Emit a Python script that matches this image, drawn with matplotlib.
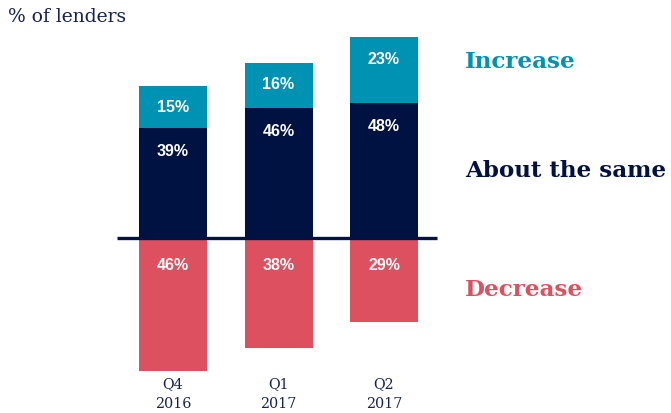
import matplotlib
matplotlib.use("Agg")
import matplotlib.pyplot as plt
import numpy as np

periods = ["Q4\n2016", "Q1\n2017", "Q2\n2017"]
increase = [15, 16, 23]
same = [39, 46, 48]
decrease = [46, 38, 29]
series_names = ["Increase", "About the same", "Decrease"]

c_inc = "#0092b2"
c_same = "#001241"
c_dec = "#dd505f"
c_text = "#14224e"

fig = plt.figure(figsize=(6.71, 4.13), dpi=100)
ax = fig.add_axes([0, 0, 1, 1])
ppx = 2.85   # pixels per percent
base = 239.5  # pixel row of zero
spacing = 105.5
ax.set_ylim(-(413 - base) / ppx, base / ppx)
ax.set_xlim(-173 / spacing, (671 - 173) / spacing)
ax.axis("off")

x = np.arange(len(periods))
w = 68 / spacing
ax.bar(x, same, width=w, color=c_same, zorder=2)
ax.bar(x, increase, bottom=same, width=w, color=c_inc, zorder=2)
ax.bar(x, [-d for d in decrease], width=w, color=c_dec, zorder=2)

ax.plot([(117 - 173) / spacing, (437 - 173) / spacing], [1.6 / ppx, 1.6 / ppx], color=c_same,
        lw=2.4, zorder=3, solid_capstyle="butt")

vfont = dict(family="Liberation Sans", fontweight="bold", fontsize=11.5, color="white",
             ha="center", va="center")
for i in range(len(periods)):
    tot = same[i] + increase[i]
    ax.text(x[i], tot - 22 / ppx, f"{increase[i]}%", **vfont, zorder=4)
    ax.text(x[i], same[i] - 23.5 / ppx, f"{same[i]}%", **vfont, zorder=4)
    ax.text(x[i], -25.5 / ppx, f"{decrease[i]}%", **vfont, zorder=4)
    ax.text(x[i], -(394 - base) / ppx, periods[i], family="DejaVu Serif", fontsize=10.3,
            color=c_text, ha="center", va="center", linespacing=1.55)

lx = (465 - 173) / spacing
lfont = dict(family="DejaVu Serif", fontweight="bold", fontsize=16.6, ha="left", va="center")
ax.text(lx, (base - 62) / ppx, series_names[0], color=c_inc, **lfont)
ax.text(lx, (base - 171) / ppx, series_names[1], color=c_same, **lfont)
ax.text(lx, (base - 290) / ppx, series_names[2], color=c_dec, **lfont)

fig.text(8 / 671, 1 - 17 / 413, "% of lenders", family="DejaVu Serif", fontsize=13.5,
         color=c_text, ha="left", va="center")

fig.savefig("out.png", dpi=100)
